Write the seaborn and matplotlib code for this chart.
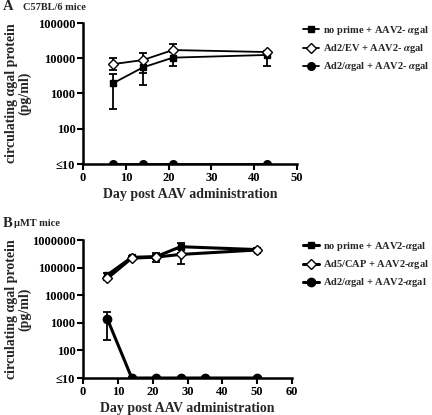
import numpy as np
import pandas as pd
import matplotlib
matplotlib.use("Agg")
import matplotlib.pyplot as plt
import seaborn as sns

# ---------------- data ----------------
# Panel A: C57BL/6 mice
A_days = [7, 14, 21, 43]
A_noprime = [1950, 5500, 10400, 12400]
A_noprime_lo = [365, 1740, 6000, 6200]
A_noprime_hi = [3500, 9000, 14800, 15000]
A_ev = [6800, 8900, 17100, 15000]
A_ev_lo = [4650, 3880, 9400, 13500]
A_ev_hi = [10400, 13800, 24800, 16500]
A_agal = [10, 10, 10, 10]
A_labels = ["no prime + AAV2- $\\alpha$gal", "Ad2/EV + AAV2- $\\alpha$gal", "Ad2/$\\alpha$gal + AAV2- $\\alpha$gal"]
A_yticks = [10, 100, 1000, 10000, 100000]
A_yticklabels = ["\u226410", "100", "1000", "10000", "100000"]
A_xticks = [0, 10, 20, 30, 40, 50]

# Panel B: muMT mice
B_days = [7, 14, 21, 28, 50]
B_noprime = [54000, 236000, 250000, 570000, 450000]
B_noprime_lo = [45000, 210000, 164000, 340000, 400000]
B_noprime_hi = [63000, 260000, 330000, 800000, 500000]
B_cap = [41000, 220000, 240000, 300000, 435000]
B_cap_lo = [35000, 200000, 200000, 135000, 400000]
B_cap_hi = [47000, 240000, 280000, 465000, 470000]
B_agal_days = [7, 14, 21, 28, 35, 50]
B_agal = [1370, 10, 10, 10, 10, 10]
B_agal_lo = [240, 10, 10, 10, 10, 10]
B_agal_hi = [2500, 10, 10, 10, 10, 10]
B_labels = ["no prime + AAV2-$\\alpha$gal", "Ad5/CAP + AAV2-$\\alpha$gal", "Ad2/$\\alpha$gal + AAV2-$\\alpha$gal"]
B_yticks = [10, 100, 1000, 10000, 100000, 1000000]
B_yticklabels = ["\u226410", "100", "1000", "10000", "100000", "1000000"]
B_xticks = [0, 10, 20, 30, 40, 50, 60]

# ---------------- style ----------------
sns.set_theme(style="ticks")
plt.rcParams["font.family"] = ["Liberation Serif", "DejaVu Serif"]
plt.rcParams["font.weight"] = "bold"
plt.rcParams["mathtext.fontset"] = "stix"
plt.rcParams["axes.labelweight"] = "bold"

fig = plt.figure(figsize=(4.32, 4.15), dpi=100)
W, H = 432, 415
axA = fig.add_axes([83 / W, 1 - 164 / H, 214 / W, 141 / H])
axB = fig.add_axes([83 / W, 1 - 378 / H, 209 / W, 138 / H])


def draw(ax, series, lw):
    for days, vals, lo, hi, marker, ms, mfc, label in series:
        df = pd.DataFrame({"day": days, "val": vals})
        sns.lineplot(data=df, x="day", y="val", ax=ax, color="black", lw=lw,
                     marker=marker, markersize=ms, markerfacecolor=mfc,
                     markeredgecolor="black", markeredgewidth=1.0,
                     label=label, zorder=3, clip_on=True)
        if lo is not None:
            v = np.array(vals, float)
            yerr = np.vstack([v - np.array(lo, float), np.array(hi, float) - v])
            ax.errorbar(days, vals, yerr=yerr, fmt="none", ecolor="black",
                        elinewidth=1.3, capsize=3.2, capthick=1.3, zorder=2)


draw(axA, [
    (A_days, A_noprime, A_noprime_lo, A_noprime_hi, "s", 5, "black", A_labels[0]),
    (A_days, A_ev, A_ev_lo, A_ev_hi, "D", 5, "white", A_labels[1]),
    (A_days, A_agal, None, None, "o", 5.5, "black", A_labels[2]),
], lw=1.3)

draw(axB, [
    (B_days, B_noprime, B_noprime_lo, B_noprime_hi, "s", 5, "black", B_labels[0]),
    (B_days, B_cap, B_cap_lo, B_cap_hi, "D", 5, "white", B_labels[1]),
    (B_agal_days, B_agal, B_agal_lo, B_agal_hi, "o", 6, "black", B_labels[2]),
], lw=2.2)


def style(ax, yticks, yticklabels, xticks, xmax, ymax):
    ax.set_yscale("log")
    ax.set_ylim(10, ymax)
    ax.set_xlim(0, xmax)
    ax.set_yticks(yticks)
    ax.set_yticklabels(yticklabels)
    ax.yaxis.set_minor_locator(matplotlib.ticker.NullLocator())
    ax.set_xticks(xticks)
    ax.tick_params(axis="both", which="major", length=4, width=1.5,
                   labelsize=9, pad=1.5, color="black", labelcolor="black")
    for lab in ax.get_xticklabels() + ax.get_yticklabels():
        lab.set_fontweight("bold")
    for s in ["left", "bottom"]:
        ax.spines[s].set_linewidth(1.8)
        ax.spines[s].set_color("black")
    for s in ["top", "right"]:
        ax.spines[s].set_visible(False)
    ax.set_xlabel("Day post AAV administration", fontsize=10, fontweight="bold", labelpad=3)
    ax.set_ylabel("circulating \u03b1gal protein\n(pg/ml)", fontsize=10,
                  fontweight="bold", linespacing=1.0)
    ax.set_facecolor("white")


style(axA, A_yticks, A_yticklabels, A_xticks, 50, 100000)
style(axB, B_yticks, B_yticklabels, B_xticks, 60, 1000000)
axA.yaxis.set_label_coords(-(83 - 31) / 214, 0.5)
axB.yaxis.set_label_coords(-(83 - 31) / 209, 0.5)

for ax, y0 in [(axA, 24), (axB, 240)]:
    leg = ax.legend(loc="upper left", bbox_to_anchor=(303 / W, 1 - y0 / H),
                    bbox_transform=fig.transFigure, frameon=False,
                    fontsize=7.5, handlelength=1.5, handletextpad=0.4,
                    borderpad=0, borderaxespad=0, labelspacing=0.5)
    for t in leg.get_texts():
        t.set_fontweight("bold")

fig.text(3 / W, 1 - 7 / H, "A", fontsize=10.5, fontweight="bold", va="center", ha="left")
fig.text(23 / W, 1 - 7 / H, "C57BL/6 mice", fontsize=7.5, fontweight="bold", va="center", ha="left")
fig.text(3 / W, 1 - 223 / H, "B", fontsize=10.5, fontweight="bold", va="center", ha="left")
fig.text(14 / W, 1 - 223 / H, "\u03bcMT mice", fontsize=7.5, fontweight="bold", va="center", ha="left")

fig.savefig("out.png", dpi=100, facecolor="white")
